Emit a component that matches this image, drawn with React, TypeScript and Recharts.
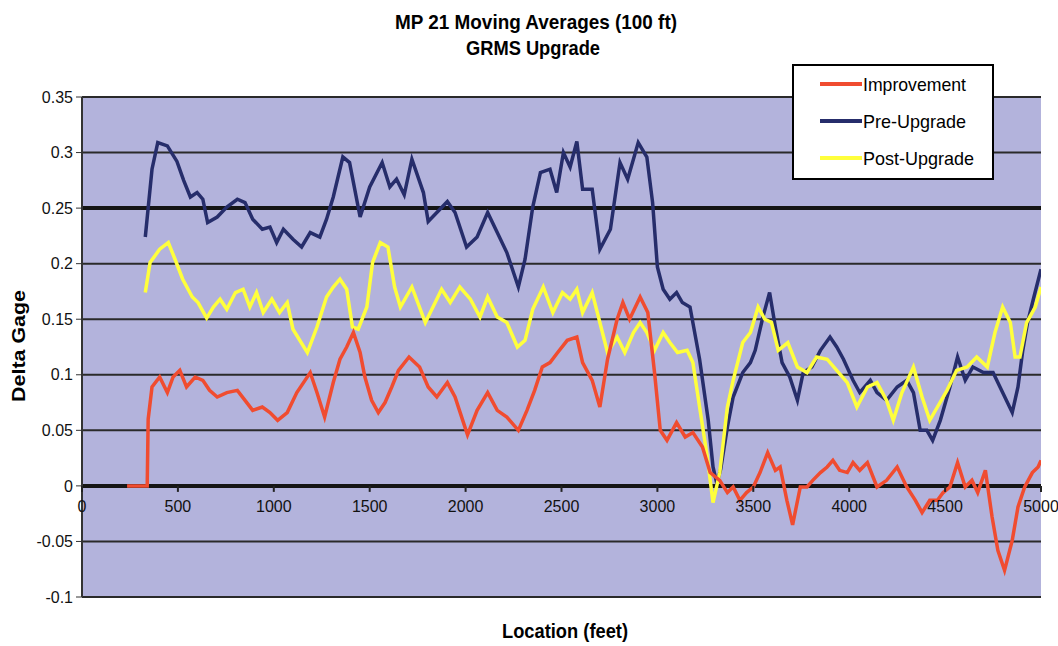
import React from "react";
import { LineChart, Line, XAxis, YAxis, CartesianGrid, ReferenceLine } from "recharts";

// ---------- data ----------
const xTicks = [0, 500, 1000, 1500, 2000, 2500, 3000, 3500, 4000, 4500, 5000];
const yTicks = [-0.1, -0.05, 0, 0.05, 0.1, 0.15, 0.2, 0.25, 0.3, 0.35];
const yTickLabels = ["-0.1", "-0.05", "0", "0.05", "0.1", "0.15", "0.2", "0.25", "0.3", "0.35"];

const preX = [330, 365, 395, 445, 495, 530, 565, 600, 630, 655, 705, 755, 810, 850, 890, 940, 980, 1015, 1050, 1100, 1145, 1190, 1240, 1275, 1310, 1360, 1395, 1450, 1500, 1565, 1605, 1640, 1680, 1720, 1780, 1805, 1850, 1905, 1945, 2005, 2060, 2115, 2165, 2215, 2275, 2310, 2350, 2390, 2440, 2475, 2510, 2545, 2580, 2610, 2660, 2700, 2755, 2805, 2845, 2900, 2945, 2975, 3000, 3030, 3065, 3100, 3130, 3170, 3220, 3265, 3290, 3310, 3330, 3365, 3395, 3445, 3485, 3510, 3550, 3585, 3615, 3650, 3690, 3730, 3760, 3805, 3850, 3900, 3935, 3970, 4020, 4055, 4110, 4145, 4195, 4250, 4300, 4335, 4370, 4405, 4435, 4475, 4525, 4565, 4605, 4645, 4700, 4750, 4800, 4850, 4880, 4905, 4930, 4960, 5000];
const preY = [0.224, 0.285, 0.309, 0.306, 0.292, 0.275, 0.26, 0.264, 0.258, 0.237, 0.242, 0.251, 0.258, 0.255, 0.24, 0.231, 0.233, 0.219, 0.231, 0.222, 0.215, 0.228, 0.224, 0.24, 0.26, 0.296, 0.291, 0.242, 0.269, 0.291, 0.269, 0.276, 0.262, 0.294, 0.264, 0.238, 0.246, 0.256, 0.246, 0.215, 0.224, 0.246, 0.228, 0.21, 0.179, 0.204, 0.251, 0.282, 0.285, 0.264, 0.3, 0.287, 0.31, 0.267, 0.267, 0.213, 0.231, 0.291, 0.276, 0.309, 0.296, 0.255, 0.197, 0.177, 0.168, 0.174, 0.165, 0.161, 0.114, 0.059, 0.017, 0.002, 0.015, 0.053, 0.08, 0.102, 0.111, 0.122, 0.152, 0.174, 0.143, 0.111, 0.098, 0.077, 0.102, 0.107, 0.122, 0.134, 0.125, 0.114, 0.095, 0.084, 0.095, 0.084, 0.077, 0.089, 0.095, 0.084, 0.05, 0.05, 0.041, 0.059, 0.089, 0.116, 0.095, 0.107, 0.102, 0.102, 0.084, 0.066, 0.089, 0.122, 0.147, 0.168, 0.195];

const postX = [330, 355, 405, 450, 485, 525, 575, 605, 650, 685, 720, 755, 800, 840, 875, 910, 945, 990, 1030, 1070, 1100, 1175, 1225, 1275, 1310, 1345, 1380, 1410, 1440, 1485, 1515, 1555, 1595, 1630, 1660, 1720, 1790, 1830, 1875, 1920, 1970, 2025, 2075, 2115, 2165, 2215, 2270, 2310, 2350, 2405, 2455, 2505, 2545, 2580, 2610, 2660, 2700, 2740, 2790, 2830, 2875, 2910, 2945, 2985, 3030, 3065, 3105, 3155, 3185, 3220, 3260, 3290, 3325, 3365, 3395, 3445, 3485, 3525, 3560, 3595, 3630, 3680, 3730, 3780, 3830, 3885, 3935, 3990, 4040, 4095, 4145, 4195, 4230, 4275, 4335, 4380, 4420, 4460, 4510, 4560, 4615, 4665, 4720, 4760, 4800, 4840, 4865, 4890, 4925, 4970, 5000];
const postY = [0.174, 0.201, 0.213, 0.219, 0.204, 0.186, 0.17, 0.165, 0.151, 0.161, 0.168, 0.159, 0.174, 0.177, 0.161, 0.174, 0.156, 0.168, 0.156, 0.165, 0.141, 0.12, 0.143, 0.17, 0.179, 0.186, 0.177, 0.143, 0.141, 0.161, 0.201, 0.219, 0.215, 0.179, 0.161, 0.179, 0.147, 0.161, 0.177, 0.165, 0.179, 0.168, 0.152, 0.17, 0.152, 0.147, 0.125, 0.131, 0.159, 0.179, 0.156, 0.174, 0.168, 0.177, 0.156, 0.174, 0.147, 0.12, 0.134, 0.12, 0.138, 0.147, 0.138, 0.122, 0.138, 0.129, 0.12, 0.122, 0.111, 0.071, 0.026, -0.015, 0.012, 0.071, 0.095, 0.129, 0.138, 0.161, 0.15, 0.147, 0.122, 0.129, 0.107, 0.102, 0.116, 0.114, 0.104, 0.093, 0.071, 0.089, 0.093, 0.077, 0.059, 0.084, 0.107, 0.08, 0.059, 0.071, 0.086, 0.104, 0.107, 0.116, 0.107, 0.138, 0.161, 0.147, 0.116, 0.116, 0.147, 0.161, 0.179];

const impX = [235, 340, 345, 365, 405, 445, 475, 510, 545, 590, 630, 665, 705, 755, 810, 850, 890, 940, 980, 1020, 1070, 1120, 1190, 1225, 1265, 1310, 1345, 1380, 1415, 1450, 1475, 1510, 1545, 1580, 1615, 1650, 1705, 1760, 1805, 1850, 1905, 1945, 1985, 2010, 2060, 2115, 2165, 2215, 2275, 2320, 2360, 2400, 2440, 2480, 2530, 2580, 2610, 2660, 2700, 2740, 2790, 2820, 2855, 2910, 2950, 2985, 3015, 3050, 3100, 3145, 3185, 3235, 3275, 3325, 3365, 3395, 3430, 3465, 3500, 3535, 3575, 3615, 3640, 3675, 3705, 3745, 3780, 3810, 3850, 3885, 3915, 3950, 3990, 4020, 4055, 4095, 4145, 4195, 4250, 4300, 4345, 4380, 4420, 4460, 4490, 4525, 4565, 4605, 4640, 4670, 4710, 4745, 4775, 4810, 4850, 4880, 4915, 4955, 4985, 5000];
const impY = [0, 0, 0.06, 0.089, 0.098, 0.084, 0.098, 0.104, 0.089, 0.098, 0.095, 0.086, 0.08, 0.084, 0.086, 0.077, 0.068, 0.071, 0.066, 0.059, 0.066, 0.084, 0.102, 0.084, 0.062, 0.093, 0.114, 0.125, 0.138, 0.12, 0.098, 0.077, 0.066, 0.075, 0.089, 0.104, 0.116, 0.107, 0.089, 0.08, 0.093, 0.08, 0.059, 0.046, 0.068, 0.084, 0.068, 0.062, 0.05, 0.068, 0.086, 0.107, 0.111, 0.12, 0.131, 0.134, 0.111, 0.095, 0.071, 0.114, 0.15, 0.165, 0.15, 0.17, 0.156, 0.102, 0.05, 0.041, 0.057, 0.044, 0.048, 0.035, 0.012, 0.005, -0.006, -0.001, -0.013, -0.006, -0.001, 0.012, 0.03, 0.014, 0.017, -0.013, -0.035, -0.001, -0.001, 0.005, 0.012, 0.017, 0.023, 0.014, 0.012, 0.021, 0.014, 0.021, -0.001, 0.005, 0.017, -0.001, -0.013, -0.024, -0.013, -0.013, -0.006, -0.001, 0.021, -0.001, 0.005, -0.006, 0.014, -0.028, -0.058, -0.076, -0.049, -0.019, -0.001, 0.012, 0.017, 0.023];

const seriesNames = ["Improvement", "Pre-Upgrade", "Post-Upgrade"];
const seriesColors = ["#f04c30", "#262d6b", "#ffff3c"];

const toPoints = (xs: number[], ys: number[]) => xs.map((x, i) => ({ x, v: ys[i] }));
const impData = toPoints(impX, impY);
const preData = toPoints(preX, preY);
const postData = toPoints(postX, postY);

// ---------- layout ----------
const W = 1058;
const H = 646;
const PLOT_TOP = 97;
const PLOT_BOTTOM = 597;
const Y_MIN = -0.1;
const Y_MAX = 0.35;
const ZERO_OFFSET = ((PLOT_BOTTOM - PLOT_TOP) * (0 - Y_MIN)) / (Y_MAX - Y_MIN);
const FONT = "'Liberation Sans', Arial, sans-serif";

const XTick = (props: any) => {
  const { x, y, payload } = props;
  const zy = y - ZERO_OFFSET;
  return (
    <g>
      <line x1={x} x2={x} y1={zy} y2={zy + 6} stroke="#222" strokeWidth={2} />
      <text x={x} y={zy + 26} textAnchor="middle" fontSize={16} fontFamily={FONT} fill="#111">
        {payload.value}
      </text>
    </g>
  );
};

const yFmt = (v: number) => {
  const i = yTicks.findIndex((t) => Math.abs(t - v) < 1e-9);
  return i >= 0 ? yTickLabels[i] : String(v);
};

export default function App() {
  return (
    <div style={{ position: "absolute", left: 0, top: 0, width: W, height: H, background: "#fff" }}>
      <LineChart
        width={W}
        height={H}
        margin={{ top: PLOT_TOP, right: 17, bottom: 0, left: 0 }}
      >
        <CartesianGrid
          vertical={false}
          horizontal={true}
          fill="#b3b3dc"
          stroke="#2a2a2a"
          strokeWidth={2}
          fillOpacity={1}
        />
        <XAxis
          dataKey="x"
          type="number"
          domain={[0, 5000]}
          ticks={xTicks}
          height={49}
          axisLine={false}
          tickLine={false}
          tickSize={0}
          tickMargin={0}
          tick={<XTick />}
          interval={0}
          allowDataOverflow
        />
        <YAxis
          type="number"
          domain={[Y_MIN, Y_MAX]}
          ticks={yTicks}
          width={82}
          tickFormatter={yFmt}
          tick={{ fontSize: 16, fontFamily: FONT, fill: "#111" }}
          axisLine={{ stroke: "#333", strokeWidth: 2 }}
          tickLine={{ stroke: "#333", strokeWidth: 1 }}
          tickSize={6}
          tickMargin={3}
          interval={0}
          allowDataOverflow
        />
        <ReferenceLine y={0.25} stroke="#151515" strokeWidth={4} />
        <ReferenceLine y={0} stroke="#151515" strokeWidth={4} />
        <Line
          data={preData}
          dataKey="v"
          name={seriesNames[1]}
          stroke={seriesColors[1]}
          strokeWidth={3.5}
          dot={false}
          type="linear"
          isAnimationActive={false}
        />
        <Line
          data={postData}
          dataKey="v"
          name={seriesNames[2]}
          stroke={seriesColors[2]}
          strokeWidth={3.5}
          dot={false}
          type="linear"
          isAnimationActive={false}
        />
        <Line
          data={impData}
          dataKey="v"
          name={seriesNames[0]}
          stroke={seriesColors[0]}
          strokeWidth={3.5}
          dot={false}
          type="linear"
          isAnimationActive={false}
        />
      </LineChart>

      <svg
        width={W}
        height={H}
        style={{ position: "absolute", left: 0, top: 0, pointerEvents: "none" }}
      >
        <text x={536} y={29} textAnchor="middle" fontSize={21} fontWeight="bold" fontFamily={FONT} textLength={282} lengthAdjust="spacingAndGlyphs" fill="#000">
          MP 21 Moving Averages (100 ft)
        </text>
        <text x={533} y={55} textAnchor="middle" fontSize={21} fontWeight="bold" fontFamily={FONT} textLength={134} lengthAdjust="spacingAndGlyphs" fill="#000">
          GRMS Upgrade
        </text>
        <text x={565} y={638} textAnchor="middle" fontSize={20} fontWeight="bold" fontFamily={FONT} textLength={126} lengthAdjust="spacingAndGlyphs" fill="#000">
          Location (feet)
        </text>
        <text
          x={0}
          y={0}
          transform="translate(25,346) rotate(-90)"
          textAnchor="middle"
          fontSize={18}
          fontWeight="bold"
          fontFamily={FONT}
          textLength={112}
          lengthAdjust="spacingAndGlyphs"
          fill="#000"
        >
          Delta Gage
        </text>

        <g>
          <rect x={793} y={65} width={200} height={114} fill="#fff" stroke="#000" strokeWidth={2} />
          {seriesNames.map((n, i) => {
            const cy = 84 + i * 37;
            return (
              <g key={n}>
                <line x1={820} x2={862} y1={cy} y2={cy} stroke={seriesColors[i]} strokeWidth={4} />
                <text x={863} y={cy + 7} fontSize={19} fontFamily={FONT} fill="#000" textLength={[103, 103, 111][i]} lengthAdjust="spacingAndGlyphs">
                  {n}
                </text>
              </g>
            );
          })}
        </g>
      </svg>
    </div>
  );
}
